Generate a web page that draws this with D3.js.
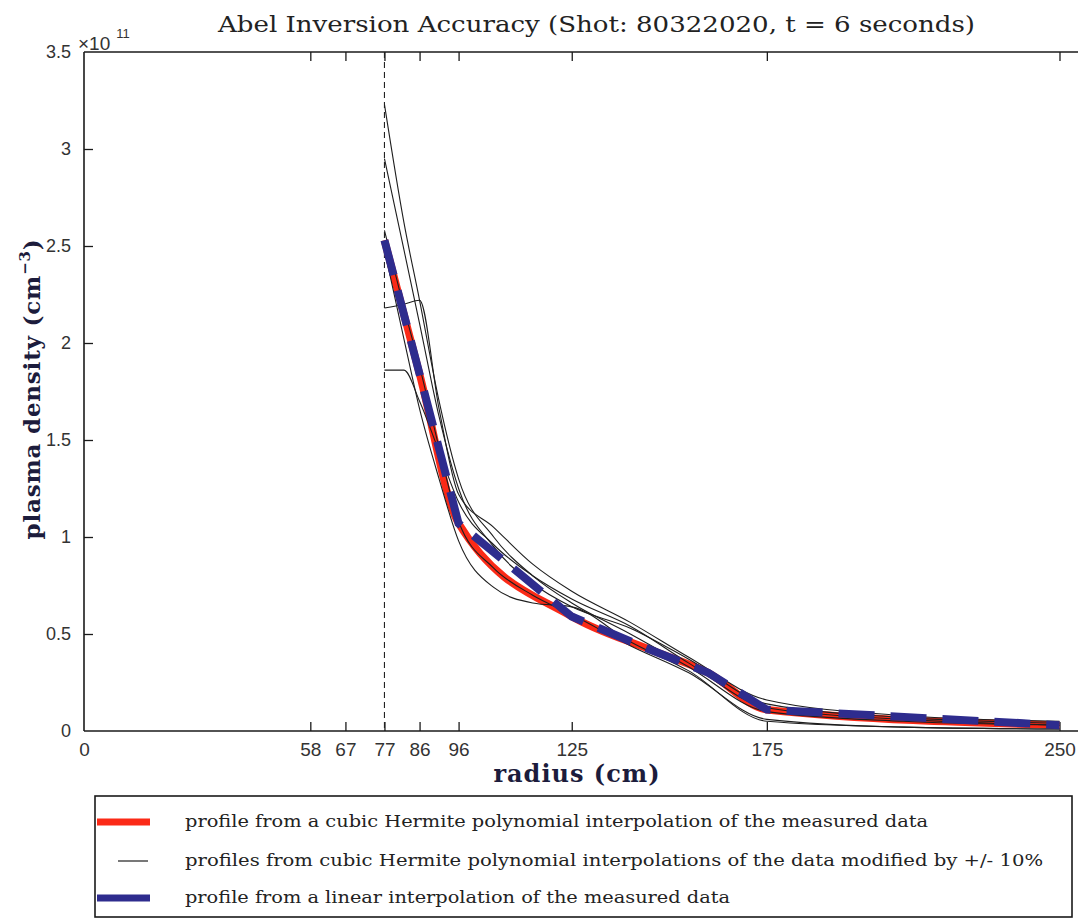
<!DOCTYPE html>
<html>
<head>
<meta charset="utf-8">
<script src="https://cdn.jsdelivr.net/npm/d3@7"></script>
<style>
  html, body { margin: 0; padding: 0; background: #ffffff; }
  svg { display: block; }
</style>
</head>
<body>
<svg id="chart" width="1078" height="920"></svg>
<script>
// Measured profile (radius in cm, density in units of 1e11 cm^-3)
const measuredRadius  = [77, 86, 96, 125, 145, 160, 175, 250];
const measuredDensity = [2.53, 1.84, 1.07, 0.59, 0.42, 0.30, 0.11, 0.03];

// Profiles from data modified by +/- 10 %, sampled on a common radius grid
const perturbedRadius = [77, 82, 86, 91, 96, 105, 115, 125, 140, 155, 175, 210, 250];
const perturbedA = [3.23, 2.62, 2.22, 1.70, 1.30, 1.00, 0.80, 0.66, 0.50, 0.33, 0.10, 0.05, 0.03];
const perturbedB = [2.95, 2.48, 2.10, 1.62, 1.25, 0.95, 0.76, 0.64, 0.53, 0.37, 0.14, 0.07, 0.04];
const perturbedC = [2.18, 2.20, 2.22, 1.66, 1.22, 1.05, 0.86, 0.72, 0.56, 0.38, 0.16, 0.08, 0.05];
const perturbedD = [1.86, 1.86, 1.70, 1.44, 1.18, 0.96, 0.80, 0.68, 0.54, 0.35, 0.12, 0.06, 0.03];
const perturbedE = [2.48, 2.02, 1.66, 1.30, 0.98, 0.74, 0.66, 0.64, 0.46, 0.31, 0.05, 0.02, 0.01];
const perturbedF = [2.58, 2.18, 1.88, 1.46, 1.08, 0.84, 0.70, 0.60, 0.44, 0.30, 0.06, 0.02, 0.01];
const perturbedProfiles = [perturbedA, perturbedB, perturbedC, perturbedD, perturbedE, perturbedF];

// Axis ticks
const xTickValues = [0, 58, 67, 77, 86, 96, 125, 175, 250];
const yTickValues = [0, 0.5, 1, 1.5, 2, 2.5, 3, 3.5];
const yTickLabels = ["0", "0.5", "1", "1.5", "2", "2.5", "3", "3.5"];
const edgeRadius = 77;

const legendLabels = [
  "profile from a cubic Hermite polynomial interpolation of the measured data",
  "profiles from cubic Hermite polynomial interpolations of the data modified by +/- 10%",
  "profile from a linear interpolation of the measured data"
];

const svg = d3.select("#chart");
const plot = { left: 84, top: 52, right: 1079, bottom: 731 };

const x = d3.scaleLinear().domain([0, 255]).range([plot.left, plot.right]);
const y = d3.scaleLinear().domain([0, 3.5]).range([plot.bottom, plot.top]);

const sansFont = "'Liberation Sans', Arial, sans-serif";
const serifFont = "'DejaVu Serif', 'Liberation Serif', serif";
const axisColor = "#1a1a1a";

// Title
svg.append("text")
  .attr("x", 218).attr("y", 32)
  .attr("textLength", 757).attr("lengthAdjust", "spacingAndGlyphs")
  .attr("font-family", serifFont).attr("font-size", 23)
  .attr("fill", "#222")
  .text("Abel Inversion Accuracy (Shot: 80322020, t = 6 seconds)");

// Frame (right edge lies at the page border)
const frame = svg.append("g").attr("stroke", axisColor).attr("stroke-width", 1.6).attr("fill", "none");
frame.append("line").attr("x1", plot.left).attr("x2", plot.right).attr("y1", plot.top).attr("y2", plot.top);
frame.append("line").attr("x1", plot.left).attr("x2", plot.right).attr("y1", plot.bottom).attr("y2", plot.bottom);
frame.append("line").attr("x1", plot.left).attr("x2", plot.left).attr("y1", plot.top).attr("y2", plot.bottom);

// Inward ticks with d3 axes (bottom, top, left)
const tickLen = 9;
const xAxisBottom = d3.axisBottom(x).tickValues(xTickValues).tickSizeInner(-tickLen).tickSizeOuter(0)
  .tickPadding(tickLen + 3).tickFormat(d3.format("d"));
const gxb = svg.append("g").attr("transform", `translate(0,${plot.bottom})`).call(xAxisBottom);
gxb.select(".domain").remove();
gxb.selectAll(".tick line").attr("stroke", axisColor).attr("stroke-width", 1.3);
gxb.selectAll(".tick line").filter(d => d === 0).remove();
gxb.selectAll(".tick text")
  .style("font-family", sansFont).style("font-size", "19px").attr("fill", "#333");

const xAxisTop = d3.axisTop(x).tickValues(xTickValues.filter(d => d > 0)).tickSizeInner(-tickLen).tickSizeOuter(0).tickFormat("");
const gxt = svg.append("g").attr("transform", `translate(0,${plot.top})`).call(xAxisTop);
gxt.select(".domain").remove();
gxt.selectAll(".tick line").attr("stroke", axisColor).attr("stroke-width", 1.3);

const yAxis = d3.axisLeft(y).tickValues(yTickValues).tickSizeInner(-tickLen).tickSizeOuter(0)
  .tickPadding(tickLen + 4).tickFormat((d, i) => yTickLabels[i]);
const gy = svg.append("g").attr("transform", `translate(${plot.left},0)`).call(yAxis);
gy.select(".domain").remove();
gy.selectAll(".tick line").attr("stroke", axisColor).attr("stroke-width", 1.3);
gy.selectAll(".tick line").filter(d => d === 0 || d === 3.5).remove();
gy.selectAll(".tick text")
  .style("font-family", sansFont).style("font-size", "18px").attr("fill", "#333");

// Exponent marker
const expo = svg.append("text").attr("x", 78).attr("y", 50)
  .style("font-family", sansFont).style("font-size", "19px").attr("fill", "#333");
expo.append("tspan").text("\u00d710");
expo.append("tspan").attr("dx", 6).attr("dy", -12).style("font-size", "13px").text("11");

// Axis labels
svg.append("text")
  .attr("transform", `translate(40,${(238 + 540) / 2}) rotate(-90)`)
  .attr("text-anchor", "middle")
  .attr("font-family", serifFont).attr("font-size", 23).attr("font-weight", "bold")
  .attr("letter-spacing", 0.8)
  .attr("fill", "#1c1c3c")
  .call(t => {
    t.append("tspan").text("plasma density (cm");
    t.append("tspan").attr("dy", -10).attr("font-size", 15).text("\u22123");
    t.append("tspan").attr("dy", 10).text(")");
  });

svg.append("text")
  .attr("x", 577).attr("y", 782)
  .attr("text-anchor", "middle")
  .attr("font-family", serifFont).attr("font-size", 24).attr("font-weight", "bold")
  .attr("letter-spacing", 1)
  .attr("fill", "#1c1c3c")
  .text("radius (cm)");

// Plasma edge marker
svg.append("line")
  .attr("x1", x(edgeRadius)).attr("x2", x(edgeRadius))
  .attr("y1", plot.top).attr("y2", plot.bottom)
  .attr("stroke", "#222").attr("stroke-width", 1.1)
  .attr("stroke-dasharray", "6,4");

const hermite = d3.line().x(d => x(d[0])).y(d => y(d[1])).curve(d3.curveMonotoneX);
const linear = d3.line().x(d => x(d[0])).y(d => y(d[1])).curve(d3.curveLinear);
const measured = d3.zip(measuredRadius, measuredDensity);

// Cubic Hermite profile of measured data
svg.append("path")
  .attr("d", hermite(measured))
  .attr("fill", "none").attr("stroke", "#fb2a17").attr("stroke-width", 7.5)
  .attr("stroke-linejoin", "round");

// Perturbed profiles
svg.append("g").selectAll("path")
  .data(perturbedProfiles)
  .join("path")
  .attr("d", vals => hermite(d3.zip(perturbedRadius, vals)))
  .attr("fill", "none").attr("stroke", "#1e1e1e").attr("stroke-width", 1.1);

// Linear interpolation profile
svg.append("path")
  .attr("d", linear(measured))
  .attr("fill", "none").attr("stroke", "#2e2c8e").attr("stroke-width", 8)
  .attr("stroke-dasharray", "36,16");

// Legend
const legend = svg.append("g");
legend.append("rect")
  .attr("x", 95).attr("y", 796).attr("width", 977).attr("height", 121)
  .attr("fill", "#fff").attr("stroke", "#1a1a1a").attr("stroke-width", 1.6);

const legendRows = [
  { y: 822, color: "#fb2a17", width: 7, x1: 97, x2: 150, textLen: 743 },
  { y: 861, color: "#1e1e1e", width: 1.2, x1: 118, x2: 148, textLen: 858 },
  { y: 898, color: "#2e2c8e", width: 7, x1: 97, x2: 150, textLen: 545 }
];
legendRows.forEach((row, i) => {
  legend.append("line")
    .attr("x1", row.x1).attr("x2", row.x2).attr("y1", row.y).attr("y2", row.y)
    .attr("stroke", row.color).attr("stroke-width", row.width);
  legend.append("text")
    .attr("x", 185).attr("y", row.y + 5)
    .attr("textLength", row.textLen).attr("lengthAdjust", "spacingAndGlyphs")
    .attr("font-family", serifFont).attr("font-size", 16).attr("fill", "#222")
    .text(legendLabels[i]);
});
</script>
</body>
</html>
